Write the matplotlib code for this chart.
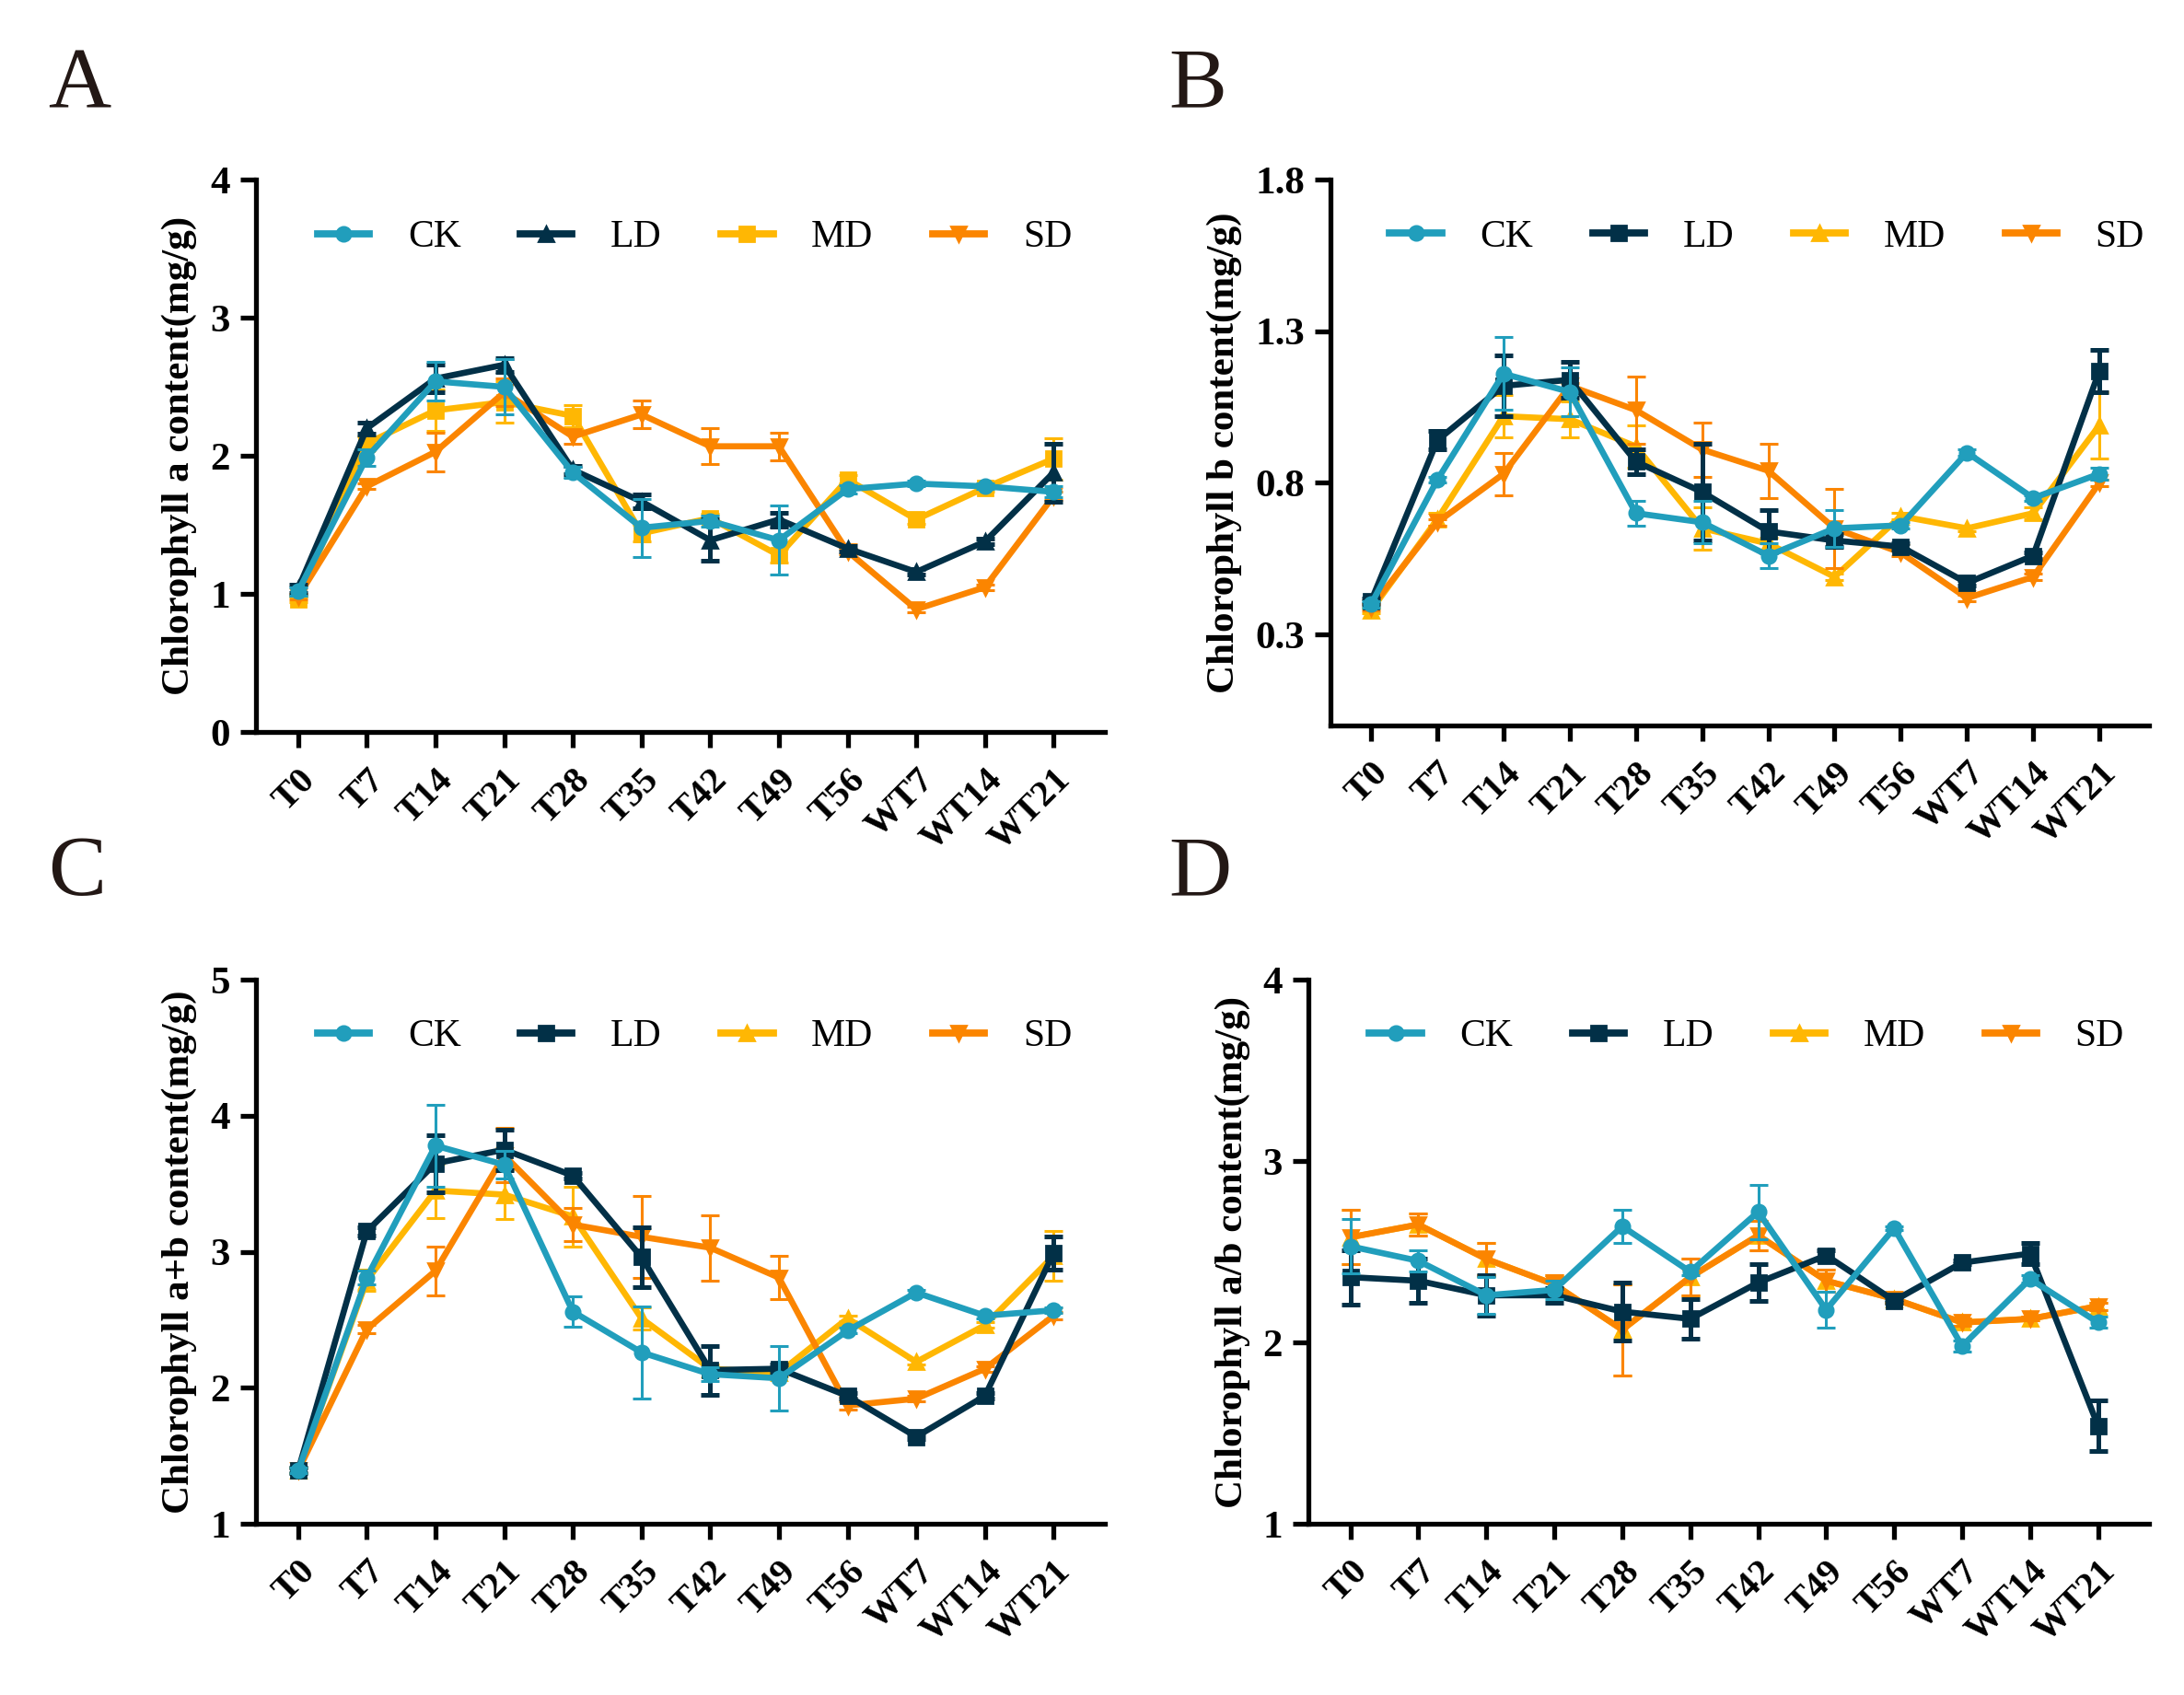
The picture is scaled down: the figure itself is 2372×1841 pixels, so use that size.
import matplotlib
matplotlib.use('Agg')
import matplotlib.pyplot as plt
from matplotlib.lines import Line2D
import numpy as np

plt.rcParams['font.family'] = ['Liberation Serif', 'DejaVu Serif']

# 采样时间点
days = ['T0', 'T7', 'T14', 'T21', 'T28', 'T35', 'T42', 'T49', 'T56', 'WT7', 'WT14', 'WT21']
groups = ['CK', 'LD', 'MD', 'SD']
colors = {'CK': '#219ebc', 'LD': '#023047', 'MD': '#ffb703', 'SD': '#fb8500'}

# A: chlorophyll a
a_ck = [1.02, 1.99, 2.54, 2.50, 1.88, 1.48, 1.53, 1.39, 1.76, 1.80, 1.78, 1.74]
a_ck_err = [0.03, 0.06, 0.14, 0.20, 0.04, 0.21, 0.04, 0.25, 0.03, 0.02, 0.02, 0.04]
a_ld = [1.04, 2.20, 2.56, 2.66, 1.90, 1.67, 1.39, 1.54, 1.33, 1.16, 1.38, 1.88]
a_ld_err = [0.03, 0.04, 0.10, 0.05, 0.03, 0.05, 0.15, 0.05, 0.02, 0.02, 0.02, 0.21]
a_md = [0.96, 2.09, 2.33, 2.39, 2.29, 1.44, 1.55, 1.28, 1.83, 1.54, 1.77, 1.98]
a_md_err = [0.02, 0.05, 0.15, 0.15, 0.08, 0.06, 0.03, 0.05, 0.03, 0.03, 0.03, 0.15]
a_sd = [0.98, 1.78, 2.03, 2.46, 2.14, 2.30, 2.07, 2.07, 1.31, 0.89, 1.05, 1.71]
a_sd_err = [0.02, 0.02, 0.14, 0.10, 0.05, 0.10, 0.13, 0.10, 0.02, 0.02, 0.02, 0.03]

# B: chlorophyll b
b_ck = [0.40, 0.81, 1.16, 1.10, 0.70, 0.67, 0.56, 0.65, 0.66, 0.90, 0.75, 0.83]
b_ck_err = [0.01, 0.01, 0.12, 0.08, 0.04, 0.07, 0.04, 0.06, 0.01, 0.01, 0.01, 0.02]
b_ld = [0.41, 0.94, 1.12, 1.14, 0.87, 0.77, 0.64, 0.61, 0.59, 0.47, 0.56, 1.17]
b_ld_err = [0.01, 0.03, 0.10, 0.06, 0.04, 0.16, 0.07, 0.02, 0.01, 0.01, 0.01, 0.07]
b_md = [0.38, 0.68, 1.02, 1.01, 0.92, 0.65, 0.60, 0.49, 0.69, 0.65, 0.70, 0.99]
b_md_err = [0.01, 0.02, 0.07, 0.06, 0.07, 0.07, 0.02, 0.01, 0.01, 0.01, 0.02, 0.11]
b_sd = [0.39, 0.67, 0.83, 1.12, 1.04, 0.91, 0.84, 0.65, 0.57, 0.42, 0.49, 0.80]
b_sd_err = [0.01, 0.01, 0.07, 0.01, 0.11, 0.09, 0.09, 0.13, 0.01, 0.01, 0.01, 0.01]

# C: chlorophyll a+b
c_ck = [1.39, 2.81, 3.78, 3.64, 2.56, 2.26, 2.10, 2.07, 2.42, 2.70, 2.53, 2.57]
c_ck_err = [0.02, 0.05, 0.30, 0.10, 0.11, 0.34, 0.05, 0.24, 0.02, 0.02, 0.02, 0.02]
c_ld = [1.39, 3.15, 3.65, 3.75, 3.56, 2.96, 2.13, 2.14, 1.94, 1.64, 1.94, 2.99]
c_ld_err = [0.02, 0.03, 0.21, 0.15, 0.02, 0.22, 0.18, 0.03, 0.02, 0.02, 0.02, 0.12]
c_md = [1.39, 2.79, 3.45, 3.42, 3.26, 2.51, 2.14, 2.11, 2.51, 2.19, 2.46, 2.97]
c_md_err = [0.02, 0.08, 0.20, 0.18, 0.22, 0.08, 0.03, 0.03, 0.02, 0.02, 0.02, 0.18]
c_sd = [1.39, 2.43, 2.86, 3.71, 3.20, 3.11, 3.03, 2.81, 1.87, 1.92, 2.14, 2.53]
c_sd_err = [0.02, 0.03, 0.18, 0.20, 0.12, 0.30, 0.24, 0.16, 0.03, 0.02, 0.02, 0.03]

# D: chlorophyll a/b  (MD 在图中被 SD 完全遮住)
d_ck = [2.53, 2.45, 2.26, 2.29, 2.64, 2.39, 2.72, 2.18, 2.63, 1.98, 2.35, 2.11]
d_ck_err = [0.15, 0.06, 0.10, 0.05, 0.09, 0.02, 0.15, 0.10, 0.01, 0.03, 0.02, 0.03]
d_ld = [2.36, 2.34, 2.26, 2.26, 2.17, 2.13, 2.33, 2.48, 2.23, 2.44, 2.49, 1.54]
d_ld_err = [0.15, 0.12, 0.11, 0.04, 0.16, 0.11, 0.10, 0.03, 0.01, 0.01, 0.06, 0.14]
d_md = [2.58, 2.65, 2.46, 2.32, 2.07, 2.36, 2.59, 2.34, 2.24, 2.11, 2.13, 2.20]
d_md_err = [0.15, 0.06, 0.09, 0.05, 0.25, 0.10, 0.08, 0.06, 0.02, 0.02, 0.01, 0.02]
d_sd = [2.58, 2.65, 2.46, 2.32, 2.07, 2.36, 2.59, 2.34, 2.24, 2.11, 2.13, 2.20]
d_sd_err = [0.15, 0.06, 0.09, 0.05, 0.25, 0.10, 0.08, 0.06, 0.02, 0.02, 0.01, 0.02]

markers_a = {'CK': 'o', 'LD': '^', 'MD': 's', 'SD': 'v'}
markers_bcd = {'CK': 'o', 'LD': 's', 'MD': '^', 'SD': 'v'}
zorders = {'CK': 6, 'LD': 5, 'MD': 3, 'SD': 4}

fig = plt.figure(figsize=(11.86, 9.205), dpi=200)

panels = [
    ('A', [0.117, 0.568, 0.389, 0.326], (0.022, 0.949), (a_ck, a_ld, a_md, a_sd), (a_ck_err, a_ld_err, a_md_err, a_sd_err),
     markers_a, 'Chlorophyll a content(mg/g)', (0, 4), [0, 1, 2, 3, 4], ['0', '1', '2', '3', '4']),
    ('B', [0.609, 0.572, 0.375, 0.322], (0.535, 0.949), (b_ck, b_ld, b_md, b_sd), (b_ck_err, b_ld_err, b_md_err, b_sd_err),
     markers_bcd, 'Chlorophyll b content(mg/g)', (0, 1.8), [0.3, 0.8, 1.3, 1.8], ['0.3', '0.8', '1.3', '1.8']),
    ('C', [0.117, 0.101, 0.389, 0.321], (0.022, 0.484), (c_ck, c_ld, c_md, c_sd), (c_ck_err, c_ld_err, c_md_err, c_sd_err),
     markers_bcd, 'Chlorophyll a+b content(mg/g)', (1, 5), [1, 2, 3, 4, 5], ['1', '2', '3', '4', '5']),
    ('D', [0.599, 0.101, 0.385, 0.321], (0.535, 0.484), (d_ck, d_ld, d_md, d_sd), (d_ck_err, d_ld_err, d_md_err, d_sd_err),
     markers_bcd, 'Chlorophyll a/b content(mg/g)', (1, 4), [1, 2, 3, 4], ['1', '2', '3', '4']),
]

x = np.arange(len(days))

for letter, rect, lpos, values, errors, markers, ylabel, ylim, yticks, yticklabels in panels:
    ax = fig.add_axes(rect)
    handles = []
    for g, v, e in zip(groups, values, errors):
        lw_err = 1.8 if g == 'LD' else 1.1
        ax.errorbar(x, v, yerr=e, color=colors[g], marker=markers[g], markersize=5.5,
                    linewidth=2.4, elinewidth=lw_err, capsize=3.5, capthick=lw_err,
                    zorder=zorders[g])
        handles.append(Line2D([], [], color=colors[g], marker=markers[g], markersize=5.5,
                              linewidth=2.8, label=g))
    ax.set_xlim(-0.62, 11.75)
    ax.set_ylim(*ylim)
    ax.set_yticks(yticks)
    ax.set_yticklabels(yticklabels, fontsize=15.5, fontweight='bold')
    ax.set_xticks(x)
    ax.set_xticklabels(days, rotation=45, ha='right', rotation_mode='anchor',
                       fontsize=14.5, fontweight='bold')
    ax.set_ylabel(ylabel, fontsize=15.5, fontweight='bold', labelpad=5)
    for side in ['top', 'right']:
        ax.spines[side].set_visible(False)
    for side in ['left', 'bottom']:
        ax.spines[side].set_linewidth(1.9)
    ax.tick_params(axis='both', width=1.9, length=6, direction='out', pad=4)
    ax.tick_params(axis='x', pad=6)
    ax.legend(handles=handles, loc='center left', bbox_to_anchor=(0.073, 0.895), ncol=4, frameon=False,
              fontsize=15, handlelength=1.35, handletextpad=1.0, columnspacing=1.55,
              borderaxespad=0, borderpad=0)
    # 面板字母
    fig.text(lpos[0], lpos[1], letter, fontsize=34, va='center', ha='left', color='#231815')

plt.savefig('out.png', dpi=200)
plt.close()
